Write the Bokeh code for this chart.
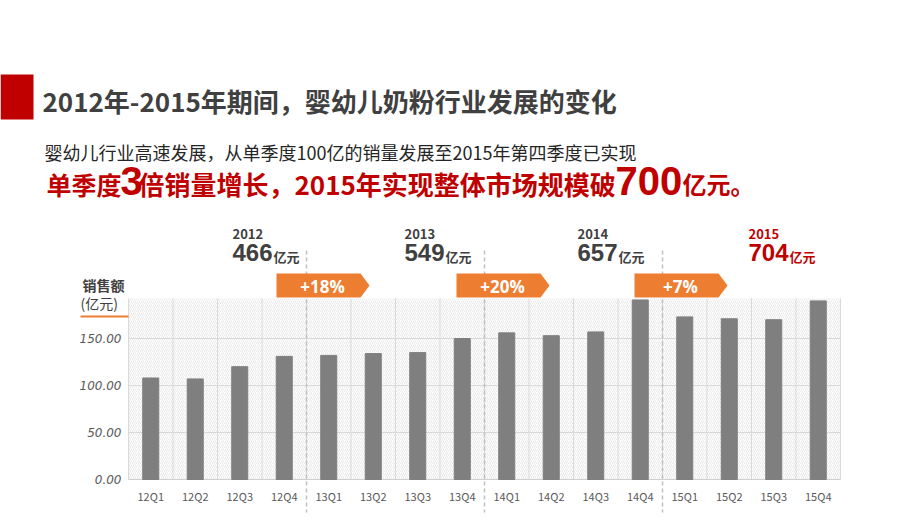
from bokeh.plotting import figure
from bokeh.models import Range1d, Label, PolyAnnotation, Arrow
from bokeh.core.properties import value
from bokeh.embed import file_html
from bokeh.resources import INLINE

# ---------------- data ----------------
quarters = ["12Q1", "12Q2", "12Q3", "12Q4", "13Q1", "13Q2", "13Q3", "13Q4",
            "14Q1", "14Q2", "14Q3", "14Q4", "15Q1", "15Q2", "15Q3", "15Q4"]
sales = [108, 107, 120, 131, 132, 134, 135, 150,
         156, 153, 157, 191, 173, 171, 170, 190]
years = ["2012", "2013", "2014", "2015"]
year_totals = ["466", "549", "657", "704"]
growth = ["+18%", "+20%", "+7%"]
y_ticks = [0, 50, 100, 150]
y_tick_labels = ["0.00", "50.00", "100.00", "150.00"]

# ---------------- layout (canvas pixels) ----------------
W, H = 920, 518
FL, FR, FT, FB = 128, 840, 298, 479      # chart area
N = len(quarters)
CW = (FR - FL) / N                       # px per quarter
PPU = 0.94                               # px per 亿元
YMAX = (FB - FT) / PPU

RED = "#c00000"
DARK = "#404040"
ORANGE = "#ed7d31"
GRID = "#d9d9d9"
GREY_TXT = "#595959"
CJK = "Noto Sans CJK SC"
NUM = "'Liberation Sans', Arial, sans-serif"

# data ranges chosen so that the chart area lands on FL..FR / FT..FB
p = figure(width=W, height=H, output_backend="svg", toolbar_location=None,
           x_range=Range1d(-FL / CW, (W - FL) / CW),
           y_range=Range1d(-(H - FB) / PPU, FB / PPU),
           min_border=0, x_axis_location=None, y_axis_location=None)
p.outline_line_color = None
p.background_fill_color = "white"
p.border_fill_color = "white"
p.xgrid.visible = False
p.ygrid.visible = False


def dx(X):
    return (X - FL) / CW


def dy(Y):
    return (FB - Y) / PPU


# hatched plot background
p.quad(left=0, right=N, bottom=0, top=YMAX, fill_alpha=0, line_alpha=0,
       hatch_pattern="/", hatch_color="#e3e3e3", hatch_scale=4, hatch_weight=0.8)

# grid lines
vx = list(range(N + 1))
p.segment(x0=vx, y0=[0] * len(vx), x1=vx, y1=[YMAX] * len(vx),
          line_color=GRID, line_width=1)
hy = y_ticks[1:]
p.segment(x0=[0] * len(hy), y0=hy, x1=[N] * len(hy), y1=hy,
          line_color=GRID, line_width=1)
# x axis line
p.segment(x0=[0], y0=[0], x1=[N], y1=[0], line_color="#cfcfcf", line_width=1)

# bars
xc = [i + 0.5 for i in range(N)]
p.vbar(x=xc, top=sales, width=0.36, fill_color="#7f7f7f", line_color="#7f7f7f")

# axis tick labels
p.text(x=xc, y=[dy(495)] * N, text=quarters, text_font=value(CJK),
       text_font_size="11px", text_color=GREY_TXT, text_align="center",
       text_baseline="middle")
p.text(x=[dx(121)] * len(y_ticks), y=y_ticks, text=y_tick_labels,
       text_font=value("DejaVu Sans"), text_font_style="italic",
       text_font_size="12px", text_color=GREY_TXT, text_align="right",
       text_baseline="middle")

# dashed year separators (through the chart and the tick-label row)
sep = [4 * k for k in range(1, len(years))]
p.segment(x0=sep, y0=[dy(250)] * len(sep), x1=sep, y1=[dy(512)] * len(sep),
          line_color="#bfbfbf", line_width=1.5, line_dash="4 3")


def label(X, Y, text, size, color, font=CJK, style="normal", align="left",
          baseline="middle"):
    p.add_layout(Label(x=X, y=H - Y, x_units="screen", y_units="screen",
                       text=text, text_font_size=f"{size}px", text_color=color,
                       text_font=font, text_font_style=style, text_align=align,
                       text_baseline=baseline))


def poly(Xs, Ys, color):
    p.add_layout(PolyAnnotation(xs=list(Xs), ys=[H - y for y in Ys],
                                xs_units="screen", ys_units="screen",
                                fill_color=color, fill_alpha=1, line_color=None))


def seg(X0, Y0, X1, Y1, color, width=1):
    p.add_layout(Arrow(x_start=X0, y_start=H - Y0, x_end=X1, y_end=H - Y1,
                       start_units="screen", end_units="screen", end=None,
                       line_color=color, line_width=width))


# ---------------- header ----------------
poly([0, 33, 33, 0], [74, 74, 119, 119], RED)
label(42, 100, "2012年-2015年期间，婴幼儿奶粉行业发展的变化", 26, DARK, style="bold")
label(44, 151, "婴幼儿行业高速发展，从单季度100亿的销量发展至2015年第四季度已实现", 18, "#262626")
label(46, 183, "单季度", 25, RED, style="bold")
label(120, 180, "3", 40, RED, font=NUM, style="bold")
label(138, 183, "倍销量增长，2015年实现整体市场规模破", 26, RED, style="bold")
label(615, 180, "700", 40, RED, font=NUM, style="bold")
label(682, 183, "亿元。", 24, RED, style="bold")

# ---------------- yearly totals ----------------
year_x = [232, 404, 577, 748]
for i, (yr, tot) in enumerate(zip(years, year_totals)):
    c = RED if i == len(years) - 1 else DARK
    label(year_x[i], 233, yr, 13, c, style="bold")
    label(year_x[i], 252, tot, 24, c, font=NUM, style="bold")
    label(year_x[i] + 41, 256, "亿元", 13, c, style="bold")

# growth arrows
arrow_x = [276, 456, 634]
for ax, g in zip(arrow_x, growth):
    poly([ax, ax + 84, ax + 93, ax + 84, ax], [273, 273, 285, 297, 297], ORANGE)
    label(ax + 46, 286, g, 17, "white", font="Open Sans", style="bold", align="center")

# y axis title
label(82, 284, "销售额", 14, DARK, style="bold")
label(80, 302, "(亿元)", 14, DARK)
seg(80, 316, 128, 316, ORANGE, 2)

open("out.html", "w").write(file_html(p, INLINE))
